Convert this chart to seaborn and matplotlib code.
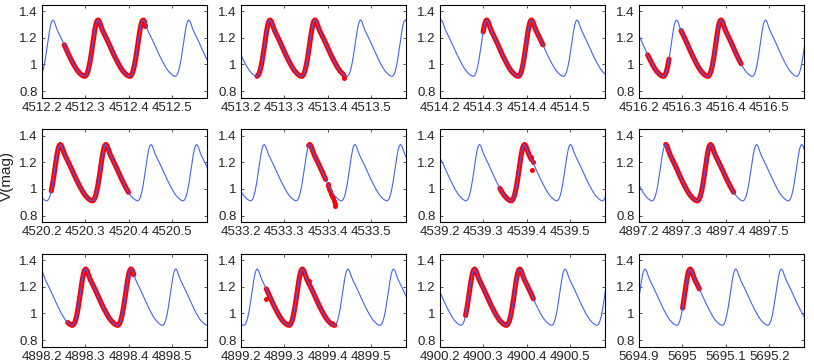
import numpy as np
import pandas as pd
import matplotlib
matplotlib.use("Agg")
import matplotlib.pyplot as plt
import seaborn as sns

# one pulsation cycle (phase 0 = maximum)
cycle_phase = [0, .03, .06, .10, .15, .20, .25, .30, .35, .40, .45, .50, .55, .60,
               .64, .68, .71, .74, .77, .80, .83, .86, .89, .92, .95, .975, 1.0]
cycle_mag = [1.335, 1.322, 1.292, 1.255, 1.220, 1.185, 1.148, 1.110, 1.072, 1.038,
             1.005, .975, .950, .932, .920, .912, .911, .921, .945, .985, 1.04,
             1.105, 1.175, 1.245, 1.30, 1.327, 1.335]

# left edge of each panel (HJD - 2450000)
x_starts = [4512.2, 4513.2, 4514.2, 4516.2,
            4520.2, 4533.2, 4539.2, 4897.2,
            4898.2, 4899.2, 4900.2, 5694.9]

# times of maximum of the model curve in each panel
peak_times = [
    [4512.226, 4512.330, 4512.434, 4512.539],
    [4513.2675, 4513.371, 4513.476, 4513.579],
    [4514.203, 4514.308, 4514.411, 4514.516],
    [4516.2865, 4516.389, 4516.4915],
    [4520.243, 4520.348, 4520.452, 4520.557],
    [4533.254, 4533.359, 4533.463, 4533.568],
    [4539.2915, 4539.395, 4539.501],
    [4897.2615, 4897.365, 4897.471, 4897.575],
    [4898.198, 4898.3015, 4898.406, 4898.509],
    [4899.238, 4899.342, 4899.447, 4899.552],
    [4900.280, 4900.384, 4900.4885],
    [5694.914, 5695.018, 5695.123, 5695.228],
]

# time spans covered by the observations
obs_windows = [
    [(4512.247, 4512.439)],
    [(4513.235, 4513.438)],
    [(4514.299, 4514.438)],
    [(4516.217, 4516.270), (4516.294, 4516.438)],
    [(4520.221, 4520.404)],
    [(4533.355, 4533.398)],
    [(4539.337, 4539.415)],
    [(4897.261, 4897.421)],
    [(4898.257, 4898.416)],
    [(4899.254, 4899.418)],
    [(4900.259, 4900.416)],
    [(5694.999, 5695.042)],
]

# observations lying off the model curve
stray_t = [[4512.437, 4512.438], [4513.435, 4513.437, 4513.438], [], [],
           [], [4533.400, 4533.402, 4533.404, 4533.406, 4533.408, 4533.410,
                4533.412, 4533.414, 4533.416, 4533.418],
           [4539.412, 4539.414, 4539.410], [],
           [], [4899.258, 4899.356, 4899.410], [], []]
stray_v = [[1.29, 1.30], [0.93, 0.91, 0.895], [], [],
           [], [1.035, 1.02, 1.0, 0.985, 0.965, 0.95, 0.93, 0.91, 0.89, 0.87],
           [1.14, 1.20, 1.24], [],
           [], [1.11, 1.245, 0.93], [], []]

tick_offsets = [0, 0.1, 0.2, 0.3]
span = 0.38


def model_curve(peaks, lo, hi):
    peaks = list(peaks)
    step = np.mean(np.diff(peaks))
    while peaks[0] > lo:
        peaks.insert(0, peaks[0] - step)
    while peaks[-1] < hi:
        peaks.append(peaks[-1] + step)
    t, v = [], []
    for a, b in zip(peaks[:-1], peaks[1:]):
        t += [a + p * (b - a) for p in cycle_phase[:-1]]
        v += cycle_mag[:-1]
    t.append(peaks[-1])
    v.append(cycle_mag[-1])
    return pd.DataFrame({"t": t, "v": v})


sns.set_style("ticks")
plt.rcParams["font.family"] = ["Liberation Sans", "DejaVu Sans"]
plt.rcParams["axes.linewidth"] = 0.8

fig, axes = plt.subplots(3, 4, figsize=(8.14, 3.62), dpi=100)
fig.subplots_adjust(left=0.0512, right=0.9877, bottom=0.0423, top=0.987,
                    wspace=0.207, hspace=0.339)

for i, ax in enumerate(axes.flat):
    x0 = x_starts[i]
    df = model_curve(peak_times[i], x0 - 0.01, x0 + span + 0.01)
    for lo, hi in obs_windows[i]:
        seg = df[(df.t >= lo) & (df.t <= hi)]
        sns.lineplot(data=seg, x="t", y="v", color="red", lw=3.7, estimator=None,
                     sort=False, ax=ax, solid_capstyle="round")
    if stray_t[i]:
        sns.scatterplot(x=stray_t[i], y=stray_v[i], color="red", s=13,
                        linewidth=0, ax=ax)
    sns.lineplot(data=df, x="t", y="v", color="#4262ff", lw=0.8, estimator=None,
                 sort=False, ax=ax)
    ax.set_xlim(x0, x0 + span)
    ax.set_ylim(0.75, 1.45)
    ax.set_xticks([x0 + d for d in tick_offsets])
    ax.set_xticklabels(["%g" % round(x0 + d, 1) for d in tick_offsets])
    ax.set_yticks([0.8, 1.0, 1.2, 1.4])
    ax.set_yticklabels(["0.8", "1", "1.2", "1.4"])
    ax.tick_params(direction="in", top=True, right=True, length=2.5, width=0.6,
                   labelsize=9.5, pad=3, color="#333333")
    for s in ax.spines.values():
        s.set_visible(True)
        s.set_color("black")
    ax.set_xlabel("")
    ax.set_ylabel("")

axes[1, 0].set_ylabel("V(mag)", fontsize=11, labelpad=4)

fig.savefig("out.png", dpi=100)
